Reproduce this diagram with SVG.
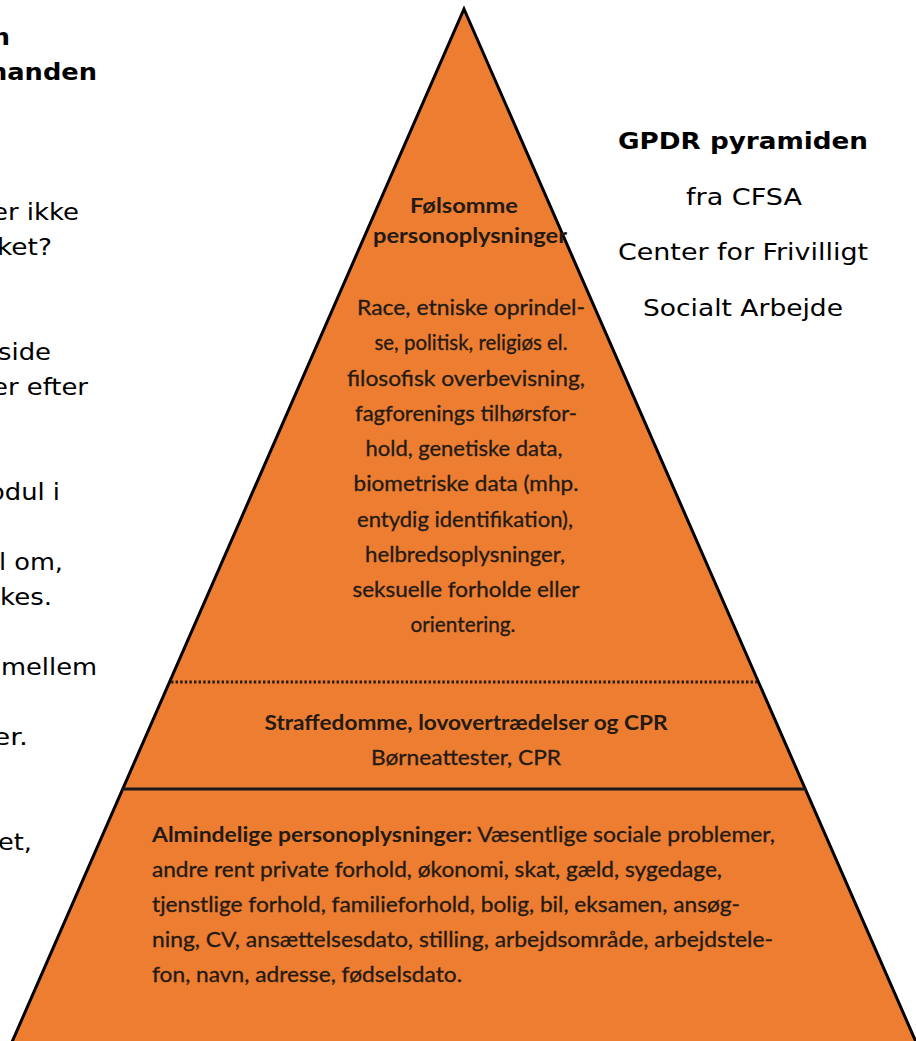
<svg xmlns="http://www.w3.org/2000/svg" width="916" height="1041" viewBox="0 0 916 1041">
  <style>
    .side { font-family: "DejaVu Sans", Verdana, sans-serif; font-size: 23px; fill: #000; }
    .sideb { font-family: "DejaVu Sans", Verdana, sans-serif; font-size: 23px; font-weight: bold; fill: #000; }
    .pt { font-family: Lato, "Open Sans", sans-serif; font-size: 21px; fill: #231a14; stroke: #231a14; stroke-width: 0.3; }
    .ptb { font-family: Lato, "Open Sans", sans-serif; font-size: 21px; font-weight: bold; fill: #231a14; }
  </style>
  <rect x="0" y="0" width="916" height="1041" fill="#ffffff"/>

  <g id="left-text">
    <text class="sideb" x="10" y="45" text-anchor="end" textLength="18" lengthAdjust="spacingAndGlyphs">n</text>
    <text class="sideb" x="97" y="80" text-anchor="end" textLength="108" lengthAdjust="spacingAndGlyphs">nanden</text>
    <text class="side" x="79" y="220" text-anchor="end" textLength="87" lengthAdjust="spacingAndGlyphs">er ikke</text>
    <text class="side" x="52" y="255" text-anchor="end" textLength="55" lengthAdjust="spacingAndGlyphs">ket?</text>
    <text class="side" x="51" y="360" text-anchor="end" textLength="53" lengthAdjust="spacingAndGlyphs">side</text>
    <text class="side" x="88" y="395" text-anchor="end" textLength="96" lengthAdjust="spacingAndGlyphs">er efter</text>
    <text class="side" x="60" y="500" text-anchor="end" textLength="71" lengthAdjust="spacingAndGlyphs">odul i</text>
    <text class="side" x="63" y="570" text-anchor="end" textLength="64" lengthAdjust="spacingAndGlyphs">l om,</text>
    <text class="side" x="52" y="605" text-anchor="end" textLength="52" lengthAdjust="spacingAndGlyphs">kes.</text>
    <text class="side" x="97" y="675" text-anchor="end" textLength="96" lengthAdjust="spacingAndGlyphs">mellem</text>
    <text class="side" x="28" y="745" text-anchor="end" textLength="35" lengthAdjust="spacingAndGlyphs">er.</text>
    <text class="side" x="32" y="850" text-anchor="end" textLength="34" lengthAdjust="spacingAndGlyphs">et,</text>
  </g>

  <g id="pyramid">
    <polygon points="464,9 919.5,1050 8.5,1050" fill="#ED7D31" stroke="#000" stroke-width="3" stroke-linejoin="miter"/>
  </g>

  <g id="dividers">
    <line x1="171" y1="682" x2="757" y2="682" stroke="#2a1a10" stroke-width="2.8" stroke-dasharray="2.4 2.2"/>
    <line x1="122" y1="789" x2="806" y2="789" stroke="#1a1a1a" stroke-width="3"/>
  </g>

  <g id="tier-top">
    <text class="ptb" x="464" y="213" text-anchor="middle" textLength="108" lengthAdjust="spacingAndGlyphs">Følsomme</text>
    <text class="ptb" x="470" y="243" text-anchor="middle" textLength="194" lengthAdjust="spacingAndGlyphs">personoplysninger</text>
    <text class="pt" x="471" y="315" text-anchor="middle" textLength="228" lengthAdjust="spacingAndGlyphs">Race, etniske oprindel-</text>
    <text class="pt" x="471" y="350" text-anchor="middle" textLength="193" lengthAdjust="spacingAndGlyphs">se, politisk, religiøs el.</text>
    <text class="pt" x="466" y="386" text-anchor="middle" textLength="238" lengthAdjust="spacingAndGlyphs">filosofisk overbevisning,</text>
    <text class="pt" x="466" y="421" text-anchor="middle" textLength="222" lengthAdjust="spacingAndGlyphs">fagforenings tilhørsfor-</text>
    <text class="pt" x="464" y="456" text-anchor="middle" textLength="197" lengthAdjust="spacingAndGlyphs">hold, genetiske data,</text>
    <text class="pt" x="466" y="491" text-anchor="middle" textLength="225" lengthAdjust="spacingAndGlyphs">biometriske data (mhp.</text>
    <text class="pt" x="465" y="527" text-anchor="middle" textLength="216" lengthAdjust="spacingAndGlyphs">entydig identifikation),</text>
    <text class="pt" x="465" y="562" text-anchor="middle" textLength="200" lengthAdjust="spacingAndGlyphs">helbredsoplysninger,</text>
    <text class="pt" x="466" y="597" text-anchor="middle" textLength="227" lengthAdjust="spacingAndGlyphs">seksuelle forholde eller</text>
    <text class="pt" x="463" y="632" text-anchor="middle" textLength="105" lengthAdjust="spacingAndGlyphs">orientering.</text>
  </g>

  <g id="tier-middle">
    <text class="ptb" x="466" y="730" text-anchor="middle" textLength="403" lengthAdjust="spacingAndGlyphs">Straffedomme, lovovertrædelser og CPR</text>
    <text class="pt" x="466" y="765" text-anchor="middle" textLength="190" lengthAdjust="spacingAndGlyphs">Børneattester, CPR</text>
  </g>

  <g id="tier-bottom">
    <text class="pt" x="152" y="842" textLength="623" lengthAdjust="spacingAndGlyphs"><tspan font-weight="bold" stroke-width="0">Almindelige personoplysninger:</tspan> Væsentlige sociale problemer,</text>
    <text class="pt" x="152" y="877" textLength="570" lengthAdjust="spacingAndGlyphs">andre rent private forhold, økonomi, skat, gæld, sygedage,</text>
    <text class="pt" x="152" y="912" textLength="588" lengthAdjust="spacingAndGlyphs">tjenstlige forhold, familieforhold, bolig, bil, eksamen, ansøg-</text>
    <text class="pt" x="152" y="947" textLength="621" lengthAdjust="spacingAndGlyphs">ning, CV, ansættelsesdato, stilling, arbejdsområde, arbejdstele-</text>
    <text class="pt" x="152" y="982" textLength="310" lengthAdjust="spacingAndGlyphs">fon, navn, adresse, fødselsdato.</text>
  </g>

  <g id="title-block">
    <text class="sideb" x="743" y="149" text-anchor="middle" textLength="250" lengthAdjust="spacingAndGlyphs">GPDR pyramiden</text>
    <text class="side" x="744" y="205" text-anchor="middle" textLength="116" lengthAdjust="spacingAndGlyphs">fra CFSA</text>
    <text class="side" x="743" y="260" text-anchor="middle" textLength="250" lengthAdjust="spacingAndGlyphs">Center for Frivilligt</text>
    <text class="side" x="743" y="316" text-anchor="middle" textLength="200" lengthAdjust="spacingAndGlyphs">Socialt Arbejde</text>
  </g>
</svg>
